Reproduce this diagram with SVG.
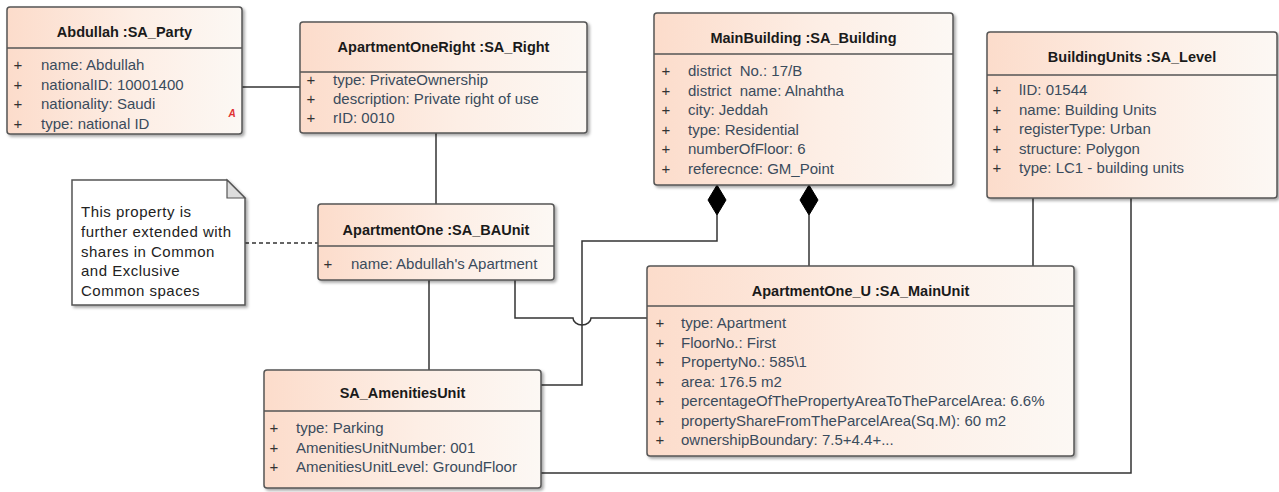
<svg xmlns="http://www.w3.org/2000/svg" width="1279" height="492" viewBox="0 0 1279 492">
<defs>
<linearGradient id="fill" x1="0" y1="0" x2="1" y2="0">
<stop offset="0" stop-color="#fcdccb"/>
<stop offset="0.55" stop-color="#fdeee5"/>
<stop offset="1" stop-color="#fcf8f4"/>
</linearGradient>
<filter id="sh" x="-5%" y="-5%" width="112%" height="115%">
<feDropShadow dx="2" dy="2" stdDeviation="1.5" flood-color="#000" flood-opacity="0.35"/>
</filter>
<style>
.box{fill:url(#fill);stroke:#555;stroke-width:1.5;filter:url(#sh)}
.sep{stroke:#555;stroke-width:1.5}
.title{font-family:"Liberation Sans",Arial,sans-serif;font-size:14.5px;font-weight:bold;fill:#1a1a1a;text-anchor:middle}
.attr{font-family:"Liberation Sans",Arial,sans-serif;font-size:15px;fill:#3a4b5c}
.plus{font-family:"Liberation Sans",Arial,sans-serif;font-size:15px;fill:#333;text-anchor:middle}
.note{font-family:"Liberation Sans",Arial,sans-serif;font-size:15px;fill:#222;letter-spacing:0.5px}
.conn{fill:none;stroke:#333;stroke-width:1.5}
.dash{fill:none;stroke:#333;stroke-width:1.3;stroke-dasharray:4 3}
.dia{fill:#000;stroke:#000;stroke-width:1}
</style>
</defs>
<rect width="1279" height="492" fill="#fff"/>

<g id="connectors">
<path class="conn" d="M242 87 H300"/>
<path class="conn" d="M436 133 V204"/>
<path class="dash" d="M245 243 H318"/>
<path class="conn" d="M429 280 V370"/>
<path class="conn" d="M515 280 V318 H573 A9 7 0 0 0 591 318 H647"/>
<path class="conn" d="M541 385 H582 V241 H717 V215"/>
<polygon class="dia" points="717,185 726,200 717,215 708,200"/>
<path class="conn" d="M809 266 V215"/>
<polygon class="dia" points="809,185 818,200 809,215 800,200"/>
<path class="conn" d="M1033 198 V266"/>
<path class="conn" d="M1131 198 V473 H541"/>
</g>

<g id="note">
<path d="M72 180 H227 L245 198 V305 H72 Z" fill="#fff" stroke="#555" stroke-width="1.5" filter="url(#sh)"/>
<path d="M227 180 V198 H245 Z" fill="#ddd" stroke="#555" stroke-width="1.2"/>
<text class="note" x="81" y="217">This property is</text>
<text class="note" x="81" y="237">further extended with</text>
<text class="note" x="81" y="257">shares in Common</text>
<text class="note" x="81" y="276">and Exclusive</text>
<text class="note" x="81" y="296">Common spaces</text>
</g>

<g id="abdullah">
<rect class="box" x="7" y="7" width="235" height="127" rx="3"/>
<line class="sep" x1="7" y1="48" x2="242" y2="48"/>
<text class="title" x="124.5" y="37">Abdullah :SA_Party</text>
<text class="plus" x="18" y="70">+</text><text class="attr" x="41" y="70">name: Abdullah</text>
<text class="plus" x="18" y="89.5">+</text><text class="attr" x="41" y="89.5">nationalID: 10001400</text>
<text class="plus" x="18" y="109">+</text><text class="attr" x="41" y="109">nationality: Saudi</text>
<text class="plus" x="18" y="128.5">+</text><text class="attr" x="41" y="128.5">type: national ID</text>
<text x="232" y="117" font-family="Liberation Sans,Arial,sans-serif" font-size="10" font-style="italic" font-weight="bold" fill="#e03030" text-anchor="middle">A</text>
</g>

<g id="right">
<rect class="box" x="300" y="22" width="287" height="111" rx="3"/>
<line class="sep" x1="300" y1="72" x2="587" y2="72"/>
<text class="title" x="443.5" y="52">ApartmentOneRight :SA_Right</text>
<text class="plus" x="311" y="85">+</text><text class="attr" x="333" y="85">type: PrivateOwnership</text>
<text class="plus" x="311" y="104">+</text><text class="attr" x="333" y="104">description: Private right of use</text>
<text class="plus" x="311" y="123">+</text><text class="attr" x="333" y="123">rID: 0010</text>
</g>

<g id="mainbuilding">
<rect class="box" x="654" y="13" width="299" height="172" rx="3"/>
<line class="sep" x1="654" y1="54" x2="953" y2="54"/>
<text class="title" x="803.5" y="43">MainBuilding :SA_Building</text>
<text class="plus" x="666" y="76">+</text><text class="attr" x="688" y="76">district&#160; No.: 17/B</text>
<text class="plus" x="666" y="95.5">+</text><text class="attr" x="688" y="95.5">district&#160; name: Alnahtha</text>
<text class="plus" x="666" y="115">+</text><text class="attr" x="688" y="115">city: Jeddah</text>
<text class="plus" x="666" y="134.5">+</text><text class="attr" x="688" y="134.5">type: Residential</text>
<text class="plus" x="666" y="154">+</text><text class="attr" x="688" y="154">numberOfFloor: 6</text>
<text class="plus" x="666" y="173.5">+</text><text class="attr" x="688" y="173.5">referecnce: GM_Point</text>
</g>

<g id="buildingunits">
<rect class="box" x="987" y="32" width="290" height="166" rx="3"/>
<line class="sep" x1="987" y1="75" x2="1277" y2="75"/>
<text class="title" x="1132" y="62">BuildingUnits :SA_Level</text>
<text class="plus" x="997" y="95">+</text><text class="attr" x="1019" y="95">lID: 01544</text>
<text class="plus" x="997" y="114.5">+</text><text class="attr" x="1019" y="114.5">name: Building Units</text>
<text class="plus" x="997" y="134">+</text><text class="attr" x="1019" y="134">registerType: Urban</text>
<text class="plus" x="997" y="153.5">+</text><text class="attr" x="1019" y="153.5">structure: Polygon</text>
<text class="plus" x="997" y="173">+</text><text class="attr" x="1019" y="173">type: LC1 - building units</text>
</g>

<g id="baunit">
<rect class="box" x="318" y="204" width="236" height="76" rx="3"/>
<line class="sep" x1="318" y1="246" x2="554" y2="246"/>
<text class="title" x="436" y="235">ApartmentOne :SA_BAUnit</text>
<text class="plus" x="328" y="269">+</text><text class="attr" x="351" y="269">name: Abdullah's Apartment</text>
</g>

<g id="amenities">
<rect class="box" x="264" y="370" width="277" height="118" rx="3"/>
<line class="sep" x1="264" y1="411" x2="541" y2="411"/>
<text class="title" x="402.5" y="398">SA_AmenitiesUnit</text>
<text class="plus" x="274" y="433">+</text><text class="attr" x="296" y="433">type: Parking</text>
<text class="plus" x="274" y="452.5">+</text><text class="attr" x="296" y="452.5">AmenitiesUnitNumber: 001</text>
<text class="plus" x="274" y="472">+</text><text class="attr" x="296" y="472">AmenitiesUnitLevel: GroundFloor</text>
</g>

<g id="mainunit">
<rect class="box" x="647" y="266" width="427" height="190" rx="3"/>
<line class="sep" x1="647" y1="306" x2="1074" y2="306"/>
<text class="title" x="860.5" y="296">ApartmentOne_U :SA_MainUnit</text>
<text class="plus" x="660" y="328">+</text><text class="attr" x="681" y="328">type: Apartment</text>
<text class="plus" x="660" y="347.5">+</text><text class="attr" x="681" y="347.5">FloorNo.: First</text>
<text class="plus" x="660" y="367">+</text><text class="attr" x="681" y="367">PropertyNo.: 585\1</text>
<text class="plus" x="660" y="386.5">+</text><text class="attr" x="681" y="386.5">area: 176.5 m2</text>
<text class="plus" x="660" y="406">+</text><text class="attr" x="681" y="406">percentageOfThePropertyAreaToTheParcelArea: 6.6%</text>
<text class="plus" x="660" y="425.5">+</text><text class="attr" x="681" y="425.5">propertyShareFromTheParcelArea(Sq.M): 60 m2</text>
<text class="plus" x="660" y="445">+</text><text class="attr" x="681" y="445">ownershipBoundary: 7.5+4.4+...</text>
</g>
</svg>
